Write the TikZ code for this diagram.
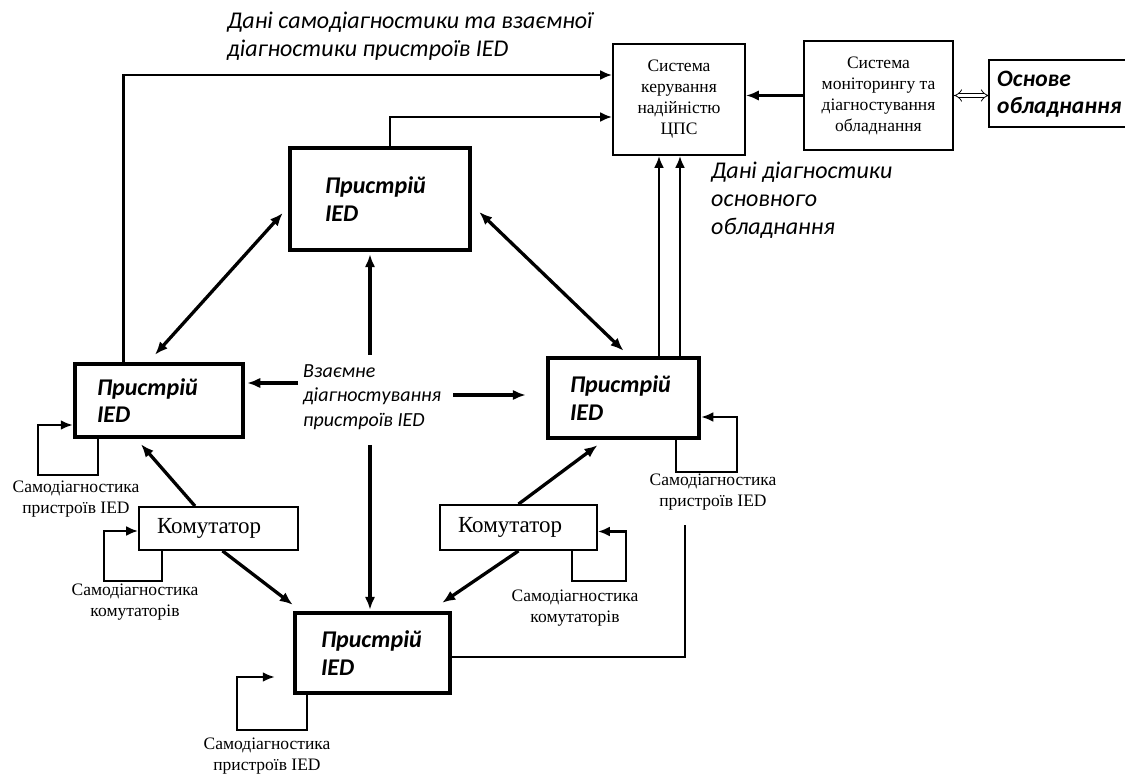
\documentclass[tikz,border=0pt]{standalone}
\usepackage{fontspec}
\setmainfont{Liberation Serif}
\newfontfamily\calfont{Carlito}
\usetikzlibrary{arrows.meta}
\begin{document}
\begin{tikzpicture}[x=1pt,y=-1pt,
  ied/.style={draw, line width=4.5pt, inner ysep=0pt, align=left,
    font=\calfont\bfseries\itshape\fontsize{24}{27.5}\selectfont},
  thinbox/.style={draw, line width=1.8pt, inner sep=0pt, align=center,
    font=\fontsize{17.5}{21}\selectfont},
  komm/.style={draw, line width=1.8pt, inner ysep=0pt, inner xsep=18pt, align=left,
    font=\fontsize{23}{26}\selectfont},
  note/.style={inner sep=0pt, align=left, font=\calfont\itshape\fontsize{24}{28}\selectfont},
  selfnote/.style={inner sep=0pt, align=center, font=\fontsize{17.5}{21.5}\selectfont},
  tip/.style={Latex[length=13pt,width=10.5pt]},
  arr/.style={line width=3.3pt, -{Latex[length=13pt,width=10.5pt]}},
  biarr/.style={line width=3.3pt, {Latex[length=13pt,width=10.5pt]}-{Latex[length=13pt,width=10.5pt]}},
  feed/.style={line width=2.6pt, -{Latex[length=12pt,width=10pt]}},
  loopline/.style={line width=2.4pt, -{Latex[length=12pt,width=10pt]}}
]
\useasboundingbox (0,0) rectangle (1125,775);

% boxes
\node[thinbox, minimum width=132, minimum height=111] (s) at (679,99.5)
  {Система\\керування\\надійністю\\ЦПС};
\node[thinbox, minimum width=149, minimum height=109] (m) at (878.5,95.5)
  {Система\\моніторингу та\\діагностування\\обладнання};
\node[inner xsep=8pt, inner ysep=0pt, minimum width=136, minimum height=67, anchor=north west,
  align=left, font=\calfont\bfseries\itshape\fontsize{23.5}{27}\selectfont] (o) at (989,60)
  {Основе\\обладнання};
\draw[line width=1.8pt] (o.north east) -- (o.north west) -- (o.south west) -- (o.south east);

\node[ied, text width=110, inner xsep=35, minimum height=102] (t) at (380,199) {Пристрій\\IED};
\node[ied, text width=124, inner xsep=22, minimum height=73] (l) at (159,400.5) {Пристрій\\IED};
\node[ied, text width=107, inner xsep=22, minimum height=80] (r) at (623.5,398) {Пристрій\\IED};
\node[ied, text width=103, inner xsep=26, minimum height=80] (b) at (372.5,653) {Пристрій\\IED};

\node[komm, text width=123, minimum height=43] (kl) at (218.5,528.5) {Комутатор};
\node[komm, text width=121, minimum height=45] (kr) at (518.5,527.5) {Комутатор};

% labels
\node[note, anchor=west] (n1) at (227,36) {Дані самодіагностики та взаємної\\діагностики пристроїв IED};
\node[note, anchor=west] (n2) at (711,200) {Дані діагностики\\основного\\обладнання};
\node[note, anchor=west, font=\calfont\itshape\fontsize{20}{24.5}\selectfont] (mid) at (303,397)
  {Взаємне\\діагностування\\пристроїв IED};

\node[selfnote] (sl) at (76,499) {Самодіагностика\\пристроїв IED};
\node[selfnote] (skl) at (135,602) {Самодіагностика\\комутаторів};
\node[selfnote] (sr) at (713,492) {Самодіагностика\\пристроїв IED};
\node[selfnote] (skr) at (575,608) {Самодіагностика\\комутаторів};
\node[selfnote] (sb) at (267,756) {Самодіагностика\\пристроїв IED};

% coordinates for free ends
\coordinate (mtop) at (370,355);
\coordinate (mbot) at (370,445);
\coordinate (mleft) at (298,383);
\coordinate (mright) at (453,395);
\coordinate (cend) at (685,525);

% feedback lines to system
\draw[feed] ([xshift=51pt]l.north west) |- ([shift={(0,-24.5)}]s.west);
\draw[feed] ([xshift=10pt]t.north) |- ([shift={(0,17.5)}]s.west);
\draw[feed] ([xshift=35.5pt]r.north) -- ([xshift=-20pt]s.south);
\draw[feed] ([xshift=56.5pt]r.north) -- ([xshift=1pt]s.south);
\draw[arr] (m.west) -- (m.west -| s.east);
\draw[line width=0.8pt, double, double distance=3.5pt, {Implies}-{Implies}] (m.east) -- (m.east -| o.west);

% mutual diagnostics
\draw[biarr] ([shift={(-4,-7)}]l.north) -- ([shift={(-5,14)}]t.west);
\draw[biarr] ([shift={(7,13)}]t.east) -- ([shift={(0,-5)}]r.north);
\draw[arr] (mtop) -- ([shift={(-10,2)}]t.south);
\draw[arr] (mbot) -- ([shift={(-2.5,-1)}]b.north);
\draw[arr] (mleft) -- ([shift={(2,-17.5)}]l.east);
\draw[arr] (mright) -- ([shift={(-20,-3)}]r.west);

% switches
\draw[arr] ([xshift=-23.5pt]kl.north) -- ([shift={(-18,5)}]l.south);
\draw[arr] ([xshift=4pt]kl.south) -- ([shift={(0,-6)}]b.north west);
\draw[arr] (kr.north) -- ([shift={(-26,5)}]r.south);
\draw[arr] (kr.south) -- ([shift={(-10,-8)}]b.north east);

% bottom IED to right
\draw[line width=2pt] ([yshift=-4pt]b.east) -| (cend);

% self-diagnostic loops
\draw[loopline] ([xshift=25pt]l.south west) -- ++(0,36) -- ++(-60,0) |- ([shift={(0,24.5)}]l.west);
\draw[loopline] ([xshift=24pt]kl.south west) -- ++(0,30) -- ++(-58,0) |- ([shift={(0,2.5)}]kl.west);
\draw[loopline] ([xshift=-25pt]r.south east) -- ++(0,32) -- ++(61,0) |- ([shift={(0,19)}]r.east);
\draw[loopline] ([xshift=-26pt]kr.south east) -- ++(0,30) -- ++(54,0) |- ([shift={(0,4)}]kr.east);
\draw[loopline] ([xshift=14pt]b.south west) -- ++(0,35) -- ++(-70,0) |- ([shift={(-18,24)}]b.west);
\end{tikzpicture}
\end{document}
